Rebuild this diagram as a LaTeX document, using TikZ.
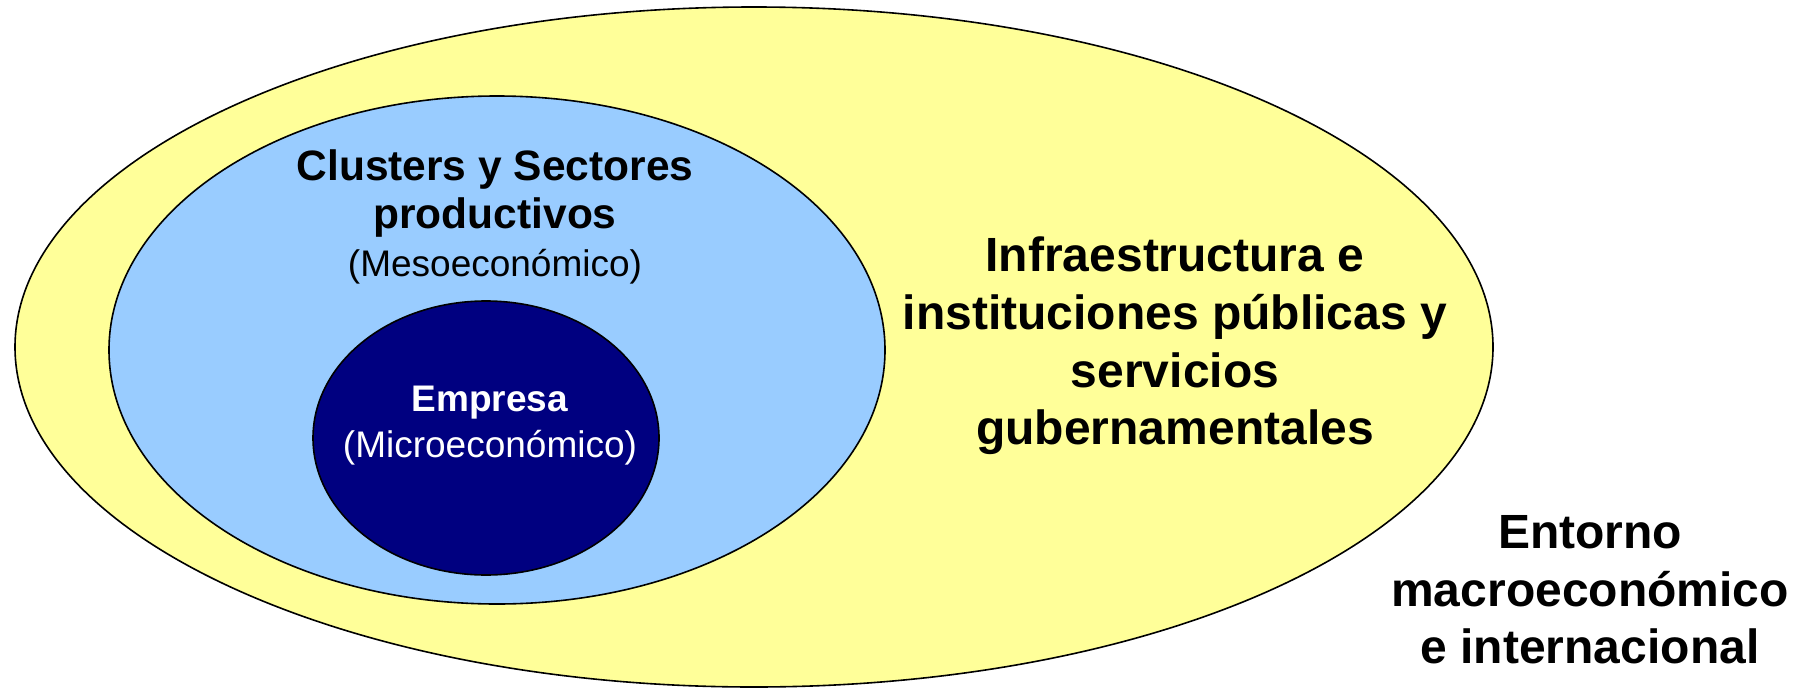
\documentclass[tikz,border=0pt]{standalone}
\usepackage{fontspec}
\setmainfont{Liberation Sans}
\usetikzlibrary{shapes.geometric}
\definecolor{macroyellow}{HTML}{FFFF99}
\definecolor{mesoblue}{HTML}{99CCFF}
\definecolor{micronavy}{HTML}{000080}
\begin{document}
\begin{tikzpicture}[x=1pt,y=-1pt,
  ring/.style={ellipse, draw=black, line width=1.6pt, inner sep=0pt},
  bigtext/.style={align=center, inner sep=0pt, font=\fontsize{48}{57.6}\selectfont\bfseries}
]
\useasboundingbox (0,0) rectangle (1806,688);
\node[ring, fill=macroyellow, minimum width=1478pt, minimum height=680pt] (outer) at (754,347) {};
\node[ring, fill=mesoblue, minimum width=776pt, minimum height=508pt] (meso) at (497,350) {};
\node[ring, fill=micronavy, minimum width=346pt, minimum height=274pt] (micro) at (486,438) {};
\node[align=center, inner sep=0pt, font=\fontsize{42.5}{48}\selectfont\bfseries] (mesotext) at (495,217) {Clusters y Sectores\\ productivos\\ \fontsize{37}{48}\selectfont\mdseries (Mesoeconómico)};
\node[align=center, inner sep=0pt, text=white, font=\fontsize{37}{46}\selectfont] (microtext) at (490,426) {\textbf{Empresa}\\ (Microeconómico)};
\node[bigtext] (infra) at (1175,346) {Infraestructura e\\ instituciones públicas y\\ servicios\\ gubernamentales};
\node[bigtext] (macro) at (1590,590) {Entorno\\ macroeconómico\\ e internacional};
\end{tikzpicture}
\end{document}
